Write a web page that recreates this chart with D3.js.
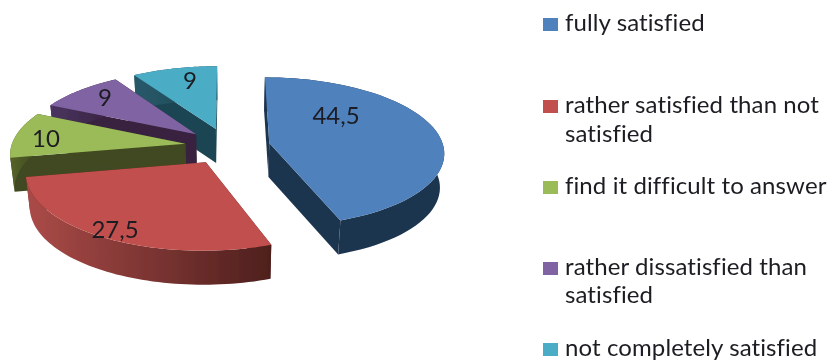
<!DOCTYPE html>
<html><head><meta charset="utf-8">
<script src="https://cdn.jsdelivr.net/npm/d3@7"></script>
<style>html,body{margin:0;padding:0;background:#fff}svg{display:block}text{font-family:Lato,"Open Sans",sans-serif;fill:#1c1c22;font-variant-ligatures:none}</style>
</head><body><svg id="c" width="830" height="360"></svg>
<script>
const categories = ["fully satisfied","rather satisfied than not satisfied","find it difficult to answer","rather dissatisfied than satisfied","not completely satisfied"];
const values = [44.5,27.5,10,9,9];
const valueLabels = ["44,5","27,5","10","9","9"];

const topColors = ["#4f81bd","#c0504d","#9bbb59","#8064a2","#4bacc6"];
const wallColors = ["#1f3550","#4e1f1d","#414a20","#38233f","#1d4552"];
const rimLight = ["#1f3550","#ab4b48","#556329","#4a3460","#28596a"];
const rimDark = ["#1f3550","#4e1f1d","#414a20","#38233f","#1d4552"];
const labelAt = [[336,114],[115,228],[46,137],[105,96],[190,79]];
const legendLines = [["fully satisfied"],["rather satisfied than not","satisfied"],["find it difficult to answer"],["rather dissatisfied than","satisfied"],["not completely satisfied"]];
const legendBase = [[31],[113,142],[194],[275,303],[356]];

const cx=227.5, cy=146, rx=174, ry=74, k=0.118, explode=0.245, depth=34, shrink=0.98;
function proj(X,Y,z){
  const s=1/(1-k*Y);
  const px=rx*X*s, py=ry*Y*s;
  return z ? [cx+px*shrink, cy+py+depth] : [cx+px, cy+py];
}
const pie=d3.pie().sort(null).value(d=>d)(values);
const svg=d3.select("#c");
const defs=svg.append("defs");
const line=d3.line();
const blur=defs.append("filter").attr("id","soft").attr("x","-5%").attr("y","-5%").attr("width","110%").attr("height","110%");
blur.append("feGaussianBlur").attr("stdDeviation",0.45);
const root=svg.append("g").attr("filter","url(#soft)");

function geom(a){
  const mid=(a.startAngle+a.endAngle)/2;
  const ox=explode*Math.sin(mid), oy=-explode*Math.cos(mid);
  const angs=d3.range(0,61).map(i=>a.startAngle+(a.endAngle-a.startAngle)*i/60);
  const rim=z=>angs.map(t=>proj(ox+Math.sin(t),oy-Math.cos(t),z));
  return {apex:z=>proj(ox,oy,z),rim};
}
// painter's order: back slices first
d3.range(pie.length-1,-1,-1).forEach(i=>{
  const g=geom(pie[i]);
  const gT=g.rim(false), gB=g.rim(true), a0=g.apex(false), a1=g.apex(true);
  const gid="rim"+i;
  const xs=gT.map(p=>p[0]);
  const gr=defs.append("linearGradient").attr("id",gid).attr("gradientUnits","userSpaceOnUse")
    .attr("x1",d3.min(xs)).attr("x2",d3.max(xs)).attr("y1",0).attr("y2",0);
  gr.append("stop").attr("offset",0).attr("stop-color",rimLight[i]);
  gr.append("stop").attr("offset",1).attr("stop-color",rimDark[i]);
  const G=root.append("g");
  // radial walls
  [[gT[0],gB[0]],[gT[gT.length-1],gB[gB.length-1]]].forEach(([t,b])=>{
    G.append("path").attr("d",line([a0,t,b,a1])+"Z").attr("fill",wallColors[i]);
  });
  // outer rim
  G.append("path").attr("d",line(gT.concat(gB.slice().reverse()))+"Z").attr("fill",`url(#${gid})`);
  // top face
  G.append("path").attr("d",line([a0].concat(gT))+"Z").attr("fill",topColors[i]);
});
// value labels
valueLabels.forEach((t,i)=>{
  root.append("text").attr("x",labelAt[i][0]).attr("y",labelAt[i][1]).attr("text-anchor","middle")
    .attr("dominant-baseline","central").attr("font-size",24).text(t);
});
// legend
categories.forEach((c,i)=>{
  root.append("rect").attr("x",543).attr("y",legendBase[i][0]-13).attr("width",15).attr("height",13).attr("fill",topColors[i]);
  legendLines[i].forEach((l,j)=>{
    root.append("text").attr("x",565).attr("y",legendBase[i][j]).attr("font-size",24).attr("letter-spacing",0.1).text(l);
  });
});
</script></body></html>
